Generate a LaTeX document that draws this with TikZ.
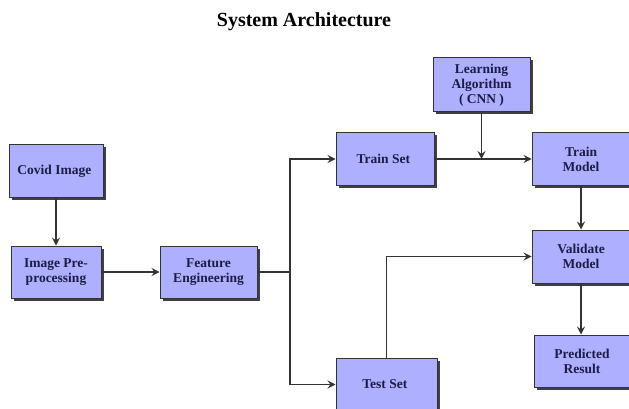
\documentclass[tikz,border=0pt]{standalone}
\usepackage{fontspec}
\setmainfont{Liberation Serif}
\usetikzlibrary{arrows.meta,shadows}

\definecolor{boxfill}{HTML}{AFAFFF}
\definecolor{boxtext}{HTML}{1C1C45}
\definecolor{linegray}{HTML}{333333}

\tikzset{
    block/.style={draw=linegray, line width=1pt, fill=boxfill, text=boxtext,
        align=center, inner sep=0pt, minimum height=52pt,
        font=\fontsize{13.5}{15}\selectfont\bfseries,
        drop shadow={shadow xshift=2.5pt, shadow yshift=-2.5pt, fill=black!75, opacity=1}},
    flow/.style={draw=linegray, line width=1.1pt},
    flowarrow/.style={flow, -{Stealth[length=8pt,width=8pt,inset=3pt]}}
}

\begin{document}
\begin{tikzpicture}[x=1pt, y=-1pt]
            \useasboundingbox (0, 0) rectangle (629, 409);

            \node (title) at (304, 22) { \fontsize{20}{24}\selectfont\bfseries System Architecture };

            \node[block, minimum width=94pt] (covid) at (56, 171) { Covid Image };
            \node[block, minimum width=90pt] (prep) at (56, 272) { Image Pre-\\processing };
            \node[block, minimum width=97pt] (feat) at (208.5, 272) { Feature\\Engineering };

            \node[block, minimum width=98pt, minimum height=53pt] (trainset) at (385, 159) { Train Set };
            \node[block, minimum width=101pt, minimum height=53pt] (testset) at (386.5, 384.5) { Test Set };

            \node[block, minimum width=97pt, minimum height=54pt] (learn) at (481.5, 85) { Learning\\Algorithm\\( CNN ) };

            \node[block, minimum width=98pt] (trainmodel) at (581, 159) { Train\\Model };
            \node[block, minimum width=98pt, minimum height=53pt] (validate) at (581, 256.5) { Validate\\Model };
            \node[block, minimum width=96pt] (predicted) at (582, 361) { Predicted\\Result };

            \coordinate (split) at (290, 272);
            \coordinate (join) at (learn.south |- trainset.east);

            \draw[flowarrow] (covid) -- (prep);
            \draw[flowarrow] (prep) -- (feat);
            \draw[flow] (feat) -- (split);
            \draw[flowarrow] (split) |- (trainset);
            \draw[flowarrow] (split) |- (testset);
            \draw[flowarrow] (trainset) -- (trainmodel);
            \draw[flowarrow] (learn) -- (join);
            \draw[flowarrow] (trainmodel) -- (validate);
            \draw[flowarrow] (testset) |- (validate);
            \draw[flowarrow] (validate.south -| trainmodel) -- (predicted.north -| trainmodel);
        \end{tikzpicture}
\end{document}
